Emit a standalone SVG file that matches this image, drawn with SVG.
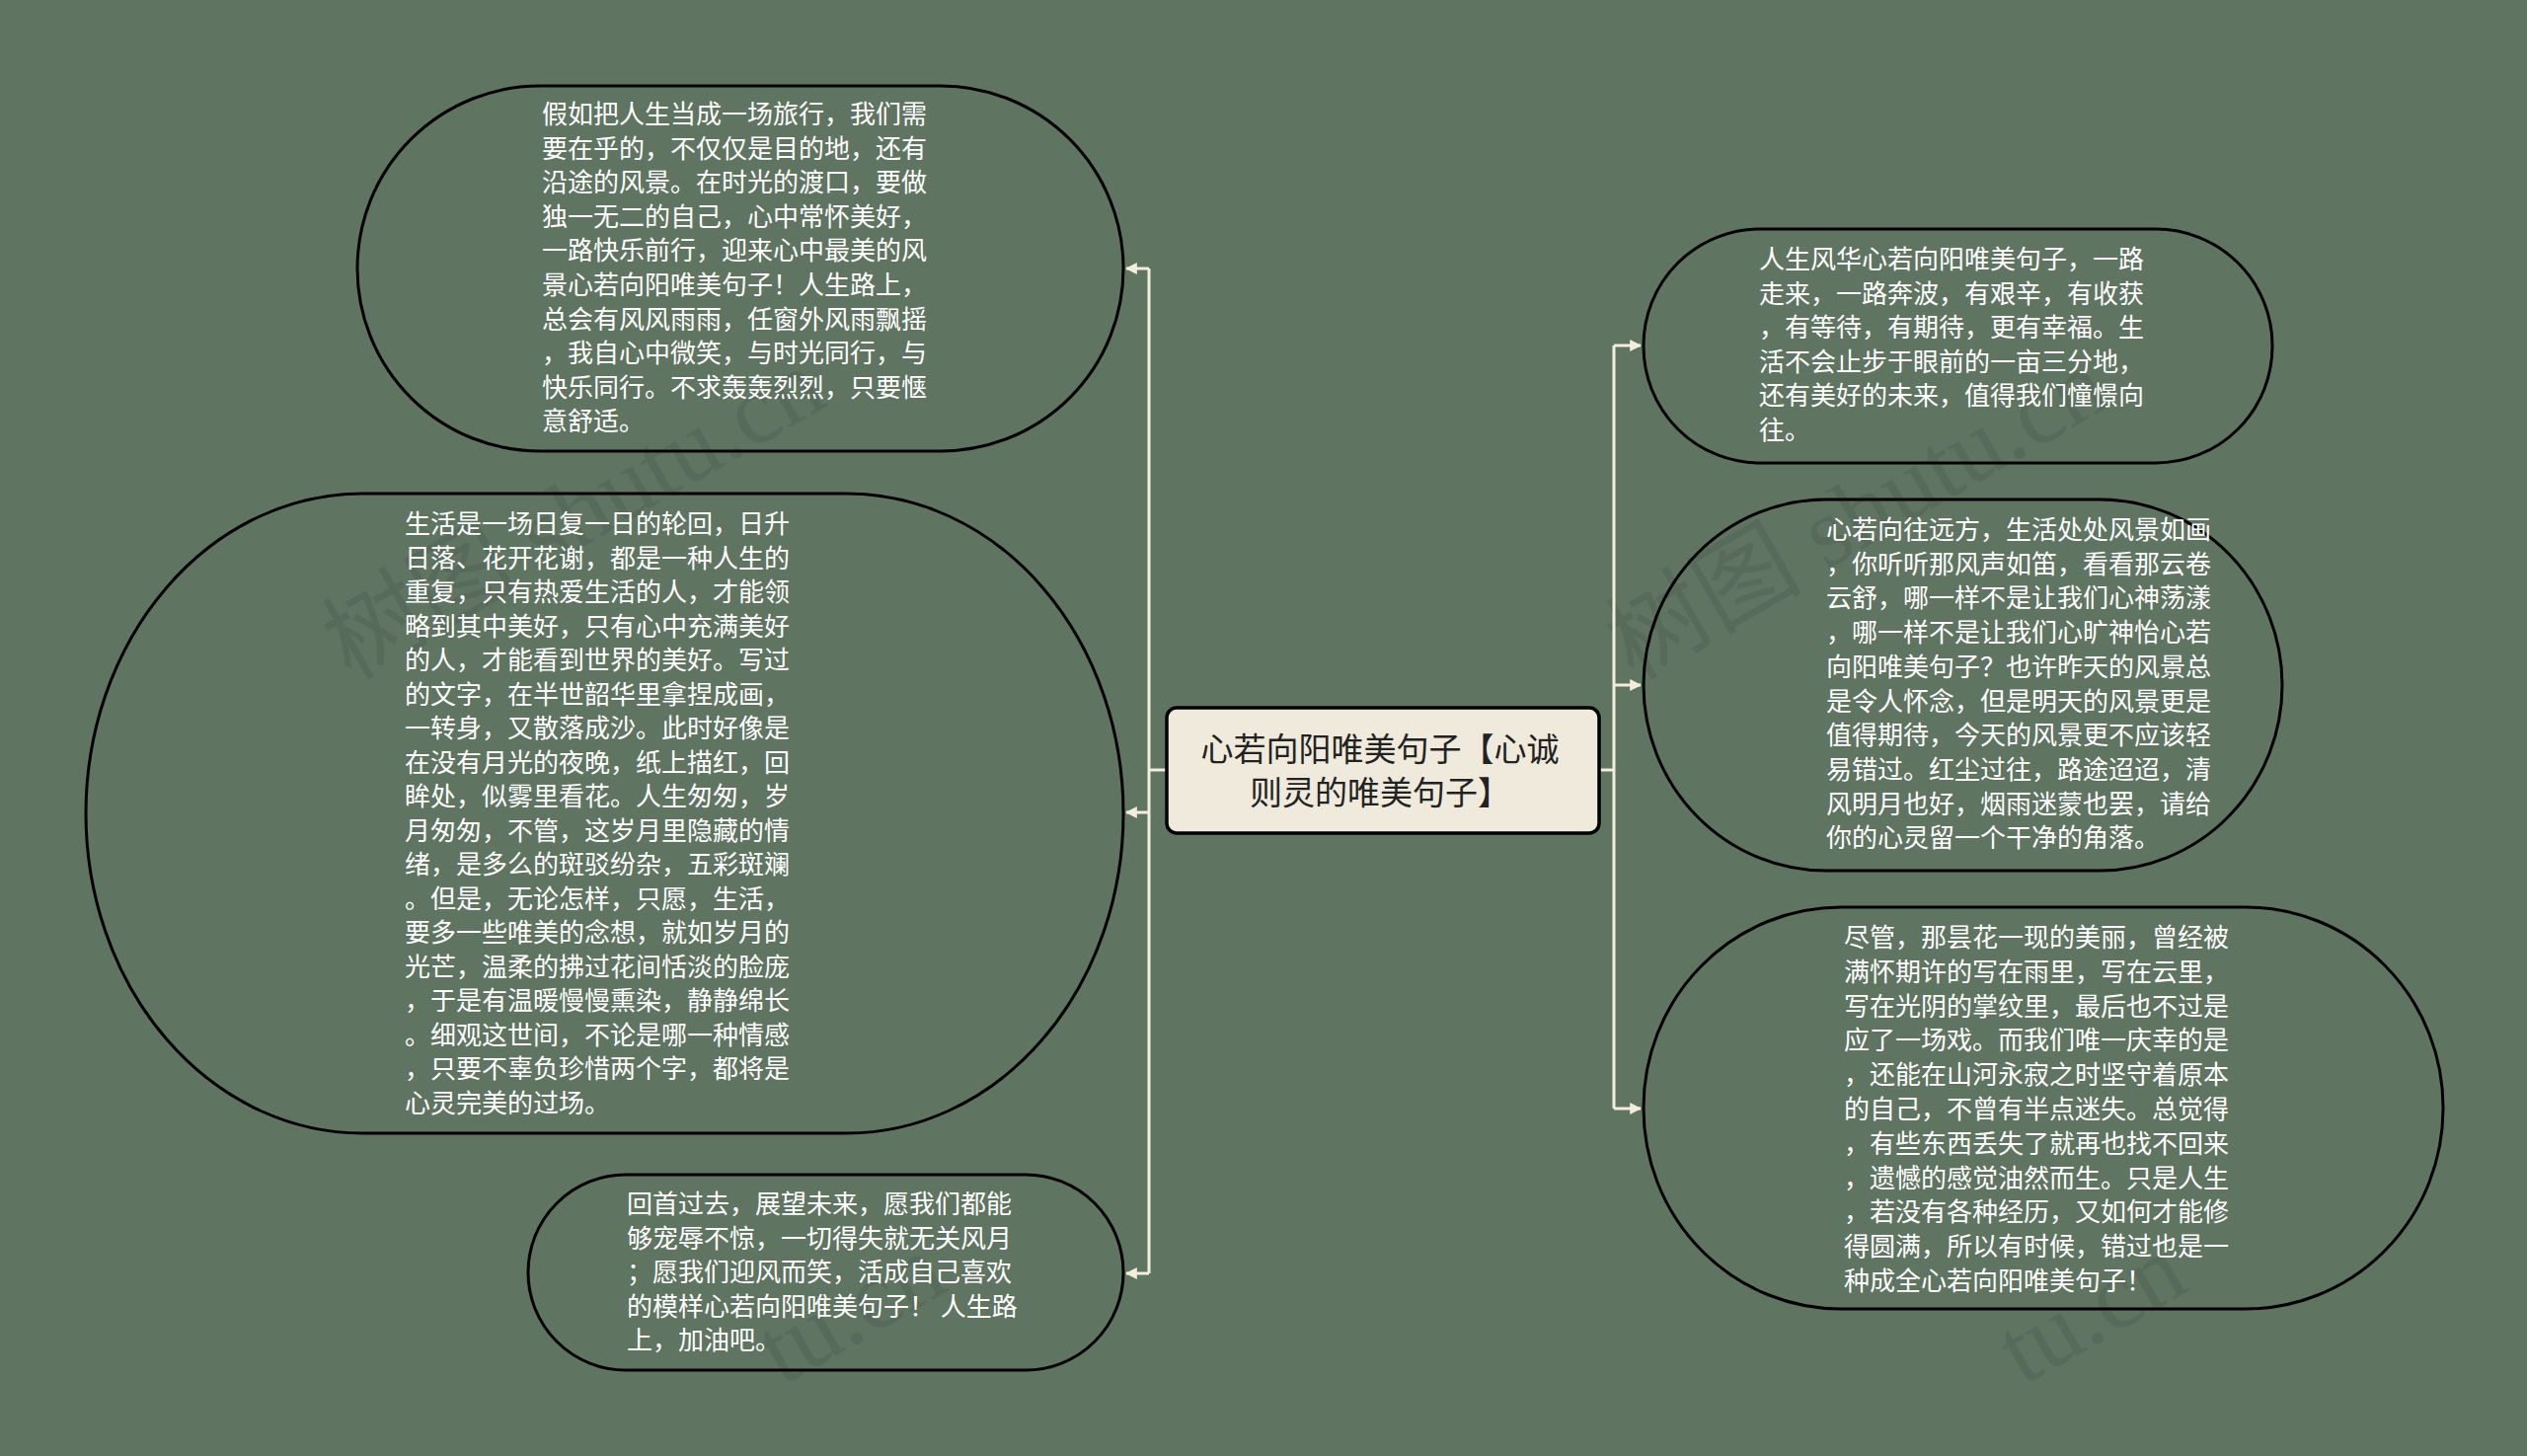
<svg xmlns="http://www.w3.org/2000/svg" width="2560" height="1475" viewBox="0 0 2560 1475">
<defs>
<style>
.bg{fill:#607462}
.node{fill:none;stroke:#000;stroke-width:3}
.t{font-family:"Noto Sans CJK SC","Noto Sans",sans-serif;font-size:26px;fill:#ffffff}
.root-box{fill:#efeadb;stroke:#000;stroke-width:3.5}
.root-t{font-family:"Noto Sans CJK SC","Noto Sans",sans-serif;font-size:33px;fill:#222;text-anchor:middle}
.conn{fill:none;stroke:#f2eedb;stroke-width:3}
.wm{font-family:"Liberation Serif","Noto Sans CJK SC",serif;font-size:100px;fill:#000;opacity:0.08}
</style>
<marker id="arr" viewBox="0 0 10 10" refX="9" refY="5" markerWidth="4" markerHeight="4" orient="auto" markerUnits="strokeWidth">
<path d="M0,0 L10,5 L0,10 z" fill="#f2eedb"/>
</marker>
</defs>
<rect class="bg" x="0" y="0" width="2560" height="1475"/>

<g id="watermarks">
<text class="wm" x="355" y="690" transform="rotate(-30 355 690)">树图 shutu.cn</text>
<text class="wm" x="1655" y="690" transform="rotate(-30 1655 690)">树图 shutu.cn</text>
<text class="wm" x="963" y="1306" text-anchor="end" transform="rotate(-30 963 1306)">tu.cn</text>
<text class="wm" x="2220" y="1306" text-anchor="end" transform="rotate(-30 2220 1306)">tu.cn</text>
</g>

<g id="connectors">
<path class="conn" d="M1182,780 H1164"/>
<path class="conn" d="M1164,272 V1290"/>
<path class="conn" d="M1164,272 H1141" marker-end="url(#arr)"/>
<path class="conn" d="M1164,823 H1141" marker-end="url(#arr)"/>
<path class="conn" d="M1164,1290 H1141" marker-end="url(#arr)"/>
<path class="conn" d="M1620,780 H1635"/>
<path class="conn" d="M1635,350 V1123"/>
<path class="conn" d="M1635,350 H1662" marker-end="url(#arr)"/>
<path class="conn" d="M1635,694 H1662" marker-end="url(#arr)"/>
<path class="conn" d="M1635,1123 H1662" marker-end="url(#arr)"/>
</g>

<g id="root">
<rect class="root-box" x="1182" y="717" width="438" height="127" rx="10"/>
<text class="root-t" x="1398" y="771">心若向阳唯美句子【心诚</text>
<text class="root-t" x="1398" y="815">则灵的唯美句子】</text>
</g>

<g id="node-tl">
<rect class="node" x="362" y="87" width="776" height="370" rx="185" ry="185"/>
<text class="t" x="549" y="125">
<tspan x="549">假如把人生当成一场旅行，我们需</tspan>
<tspan x="549" dy="34.6">要在乎的，不仅仅是目的地，还有</tspan>
<tspan x="549" dy="34.6">沿途的风景。在时光的渡口，要做</tspan>
<tspan x="549" dy="34.6">独一无二的自己，心中常怀美好，</tspan>
<tspan x="549" dy="34.6">一路快乐前行，迎来心中最美的风</tspan>
<tspan x="549" dy="34.6">景心若向阳唯美句子！人生路上，</tspan>
<tspan x="549" dy="34.6">总会有风风雨雨，任窗外风雨飘摇</tspan>
<tspan x="549" dy="34.6">，我自心中微笑，与时光同行，与</tspan>
<tspan x="549" dy="34.6">快乐同行。不求轰轰烈烈，只要惬</tspan>
<tspan x="549" dy="34.6">意舒适。</tspan>
</text>
</g>

<g id="node-ml">
<rect class="node" x="87" y="500" width="1051" height="648" rx="280" ry="324"/>
<text class="t" x="410" y="540">
<tspan x="410">生活是一场日复一日的轮回，日升</tspan>
<tspan x="410" dy="34.5">日落、花开花谢，都是一种人生的</tspan>
<tspan x="410" dy="34.5">重复，只有热爱生活的人，才能领</tspan>
<tspan x="410" dy="34.5">略到其中美好，只有心中充满美好</tspan>
<tspan x="410" dy="34.5">的人，才能看到世界的美好。写过</tspan>
<tspan x="410" dy="34.5">的文字，在半世韶华里拿捏成画，</tspan>
<tspan x="410" dy="34.5">一转身，又散落成沙。此时好像是</tspan>
<tspan x="410" dy="34.5">在没有月光的夜晚，纸上描红，回</tspan>
<tspan x="410" dy="34.5">眸处，似雾里看花。人生匆匆，岁</tspan>
<tspan x="410" dy="34.5">月匆匆，不管，这岁月里隐藏的情</tspan>
<tspan x="410" dy="34.5">绪，是多么的斑驳纷杂，五彩斑斓</tspan>
<tspan x="410" dy="34.5">。但是，无论怎样，只愿，生活，</tspan>
<tspan x="410" dy="34.5">要多一些唯美的念想，就如岁月的</tspan>
<tspan x="410" dy="34.5">光芒，温柔的拂过花间恬淡的脸庞</tspan>
<tspan x="410" dy="34.5">，于是有温暖慢慢熏染，静静绵长</tspan>
<tspan x="410" dy="34.5">。细观这世间，不论是哪一种情感</tspan>
<tspan x="410" dy="34.5">，只要不辜负珍惜两个字，都将是</tspan>
<tspan x="410" dy="34.5">心灵完美的过场。</tspan>
</text>
</g>

<g id="node-bl">
<rect class="node" x="535" y="1190" width="603" height="198" rx="99" ry="99"/>
<text class="t" x="635" y="1229">
<tspan x="635">回首过去，展望未来，愿我们都能</tspan>
<tspan x="635" dy="34.5">够宠辱不惊，一切得失就无关风月</tspan>
<tspan x="635" dy="34.5">；愿我们迎风而笑，活成自己喜欢</tspan>
<tspan x="635" dy="34.5">的模样心若向阳唯美句子！ 人生路</tspan>
<tspan x="635" dy="34.5">上，加油吧。</tspan>
</text>
</g>

<g id="node-tr">
<rect class="node" x="1665" y="232" width="637" height="237" rx="118" ry="118"/>
<text class="t" x="1782" y="272">
<tspan x="1782">人生风华心若向阳唯美句子，一路</tspan>
<tspan x="1782" dy="34.6">走来，一路奔波，有艰辛，有收获</tspan>
<tspan x="1782" dy="34.6">，有等待，有期待，更有幸福。生</tspan>
<tspan x="1782" dy="34.6">活不会止步于眼前的一亩三分地，</tspan>
<tspan x="1782" dy="34.6">还有美好的未来，值得我们憧憬向</tspan>
<tspan x="1782" dy="34.6">往。</tspan>
</text>
</g>

<g id="node-mr">
<rect class="node" x="1665" y="506" width="647" height="376" rx="185" ry="188"/>
<text class="t" x="1850" y="546">
<tspan x="1850">心若向往远方，生活处处风景如画</tspan>
<tspan x="1850" dy="34.7">，你听听那风声如笛，看看那云卷</tspan>
<tspan x="1850" dy="34.7">云舒，哪一样不是让我们心神荡漾</tspan>
<tspan x="1850" dy="34.7">，哪一样不是让我们心旷神怡心若</tspan>
<tspan x="1850" dy="34.7">向阳唯美句子？也许昨天的风景总</tspan>
<tspan x="1850" dy="34.7">是令人怀念，但是明天的风景更是</tspan>
<tspan x="1850" dy="34.7">值得期待，今天的风景更不应该轻</tspan>
<tspan x="1850" dy="34.7">易错过。红尘过往，路途迢迢，清</tspan>
<tspan x="1850" dy="34.7">风明月也好，烟雨迷蒙也罢，请给</tspan>
<tspan x="1850" dy="34.7">你的心灵留一个干净的角落。</tspan>
</text>
</g>

<g id="node-br">
<rect class="node" x="1665" y="919" width="810" height="407" rx="200" ry="203"/>
<text class="t" x="1868" y="959">
<tspan x="1868">尽管，那昙花一现的美丽，曾经被</tspan>
<tspan x="1868" dy="34.8">满怀期许的写在雨里，写在云里，</tspan>
<tspan x="1868" dy="34.8">写在光阴的掌纹里，最后也不过是</tspan>
<tspan x="1868" dy="34.8">应了一场戏。而我们唯一庆幸的是</tspan>
<tspan x="1868" dy="34.8">，还能在山河永寂之时坚守着原本</tspan>
<tspan x="1868" dy="34.8">的自己，不曾有半点迷失。总觉得</tspan>
<tspan x="1868" dy="34.8">，有些东西丢失了就再也找不回来</tspan>
<tspan x="1868" dy="34.8">，遗憾的感觉油然而生。只是人生</tspan>
<tspan x="1868" dy="34.8">，若没有各种经历，又如何才能修</tspan>
<tspan x="1868" dy="34.8">得圆满，所以有时候，错过也是一</tspan>
<tspan x="1868" dy="34.8">种成全心若向阳唯美句子！</tspan>
</text>
</g>
</svg>
